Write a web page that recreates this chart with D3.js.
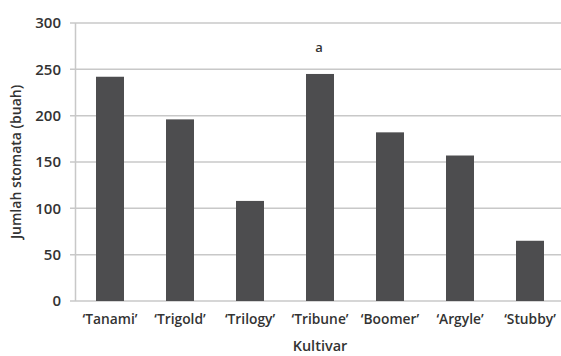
<!DOCTYPE html>
<html><head><meta charset="utf-8">
<script src="https://cdn.jsdelivr.net/npm/d3@7/dist/d3.min.js"></script>
<style>body{margin:0;background:#fff}svg{display:block}text{font-family:"Open Sans","Liberation Sans",sans-serif;fill:#333}</style>
</head><body>
<script>
const categories = ["\u2018Tanami\u2019","\u2018Trigold\u2019","\u2018Trilogy\u2019","\u2018Tribune\u2019","\u2018Boomer\u2019","\u2018Argyle\u2019","\u2018Stubby\u2019"];
const values = [242, 196, 108, 245, 182, 157, 65];
const letters = ["", "", "", "a", "", "", ""];
const yTicks = [0, 50, 100, 150, 200, 250, 300];

const W = 561, H = 356;
const svg = d3.select("body").append("svg").attr("width", W).attr("height", H);
const x = d3.scaleBand().domain(categories).range([75, 565]).paddingInner(0.6).paddingOuter(0.3);
const y = d3.scaleLinear().domain([0, 300]).range([301, 23]);

// gridlines
svg.append("g").selectAll("line").data(yTicks).join("line")
  .attr("x1", 70).attr("x2", W).attr("y1", d => y(d)).attr("y2", d => y(d))
  .attr("stroke", "#c8c8c8").attr("stroke-width", 1.5);
// y axis line
svg.append("line").attr("x1", 75.5).attr("x2", 75.5).attr("y1", y(300)).attr("y2", y(0))
  .attr("stroke", "#c8c8c8").attr("stroke-width", 1.5);

const yAxis = d3.axisLeft(y).tickValues(yTicks).tickSize(0).tickPadding(14);
const gy = svg.append("g").attr("transform", "translate(75,0)").call(yAxis);
gy.select(".domain").remove();
gy.selectAll("text").style("font-size", "15px").style("font-weight", "600").attr("fill", "#333");

// bars
svg.append("g").selectAll("rect").data(values).join("rect")
  .attr("x", (d, i) => x(categories[i]))
  .attr("width", x.bandwidth())
  .attr("y", d => y(d))
  .attr("height", d => y(0) - y(d))
  .attr("fill", "#4d4d4f");

svg.append("g").selectAll("text").data(letters).join("text")
  .attr("x", (d, i) => x(categories[i]) + x.bandwidth() / 2 - 1)
  .attr("y", 52).attr("text-anchor", "middle")
  .style("font-size", "13px").style("font-weight", "600").text(d => d);

const xAxis = d3.axisBottom(x).tickSize(0).tickPadding(13);
const gx = svg.append("g").attr("transform", "translate(0,301)").call(xAxis);
gx.select(".domain").remove();
gx.selectAll("text").style("font-size", "13.8px").style("font-weight", "600").attr("fill", "#333");

svg.append("text").attr("x", 320).attr("y", 351).attr("text-anchor", "middle")
  .style("font-size", "14.5px").style("font-weight", "600").text("Kultivar");
svg.append("text").attr("transform", "translate(21,162) rotate(-90)").attr("text-anchor", "middle")
  .style("font-size", "14px").style("font-weight", "600").text("Jumlah stomata (buah)");
</script>
</body></html>
